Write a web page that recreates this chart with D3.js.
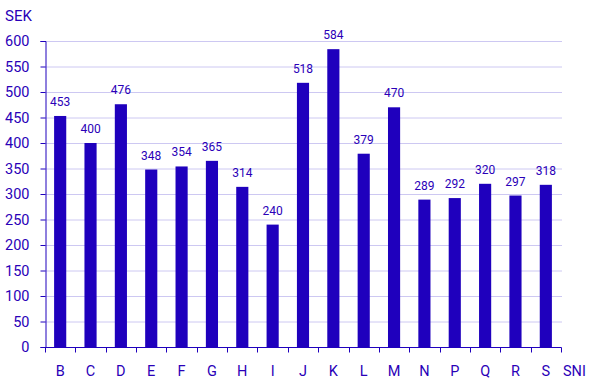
<!DOCTYPE html>
<html><head><meta charset="utf-8">
<script src="https://cdn.jsdelivr.net/npm/d3@7"></script>
<style>body{margin:0;background:#fff}svg{display:block;font-family:Roboto,sans-serif}</style>
</head><body><svg id="c" width="593" height="382"></svg>
<script>
const categories = ["B","C","D","E","F","G","H","I","J","K","L","M","N","P","Q","R","S"];
const values = [453,400,476,348,354,365,314,240,518,584,379,470,289,292,320,297,318];
const yTicks = [0,50,100,150,200,250,300,350,400,450,500,550,600];

(function(){
const svg = d3.select("#c");
const mLeft = 45, mRight = 561, mTop = 41, mBottom = 347;
const textCol = "#2a00b8", barCol = "#1f00bd", axisCol = "#1f00bd", gridCol = "#cdc8f2";

const x = d3.scaleBand().domain(categories).range([mLeft, mRight]).paddingInner(0.6).paddingOuter(0.3);
const y = d3.scaleLinear().domain([0, 600]).range([mBottom, mTop]);

svg.append("g").selectAll("line").data(yTicks.filter(d => d > 0)).join("line")
  .attr("x1", mLeft).attr("x2", mRight + 1)
  .attr("y1", d => y(d) + 0.5).attr("y2", d => y(d) + 0.5)
  .attr("stroke", gridCol).attr("stroke-width", 1);

svg.append("g").selectAll("rect").data(values).join("rect")
  .attr("x", (d, i) => x(categories[i]))
  .attr("width", x.bandwidth())
  .attr("y", d => y(d))
  .attr("height", d => y(0) - y(d))
  .attr("fill", barCol);

svg.append("g").selectAll("text").data(values).join("text")
  .attr("x", (d, i) => x(categories[i]) + x.bandwidth() / 2)
  .attr("y", d => y(d) - 10)
  .attr("text-anchor", "middle").attr("font-size", 12).attr("fill", textCol)
  .text(d => d);

const yAxis = d3.axisLeft(y).tickValues(yTicks).tickSize(5).tickPadding(11);
const gy = svg.append("g").attr("transform", `translate(${mLeft + 0.5},0)`).call(yAxis);
gy.select(".domain").attr("stroke", axisCol);
gy.selectAll(".tick line").attr("stroke", axisCol);
gy.selectAll(".tick text").attr("fill", textCol).attr("font-size", 14.5).attr("font-family", "Roboto,sans-serif");

const xStep = (mRight - mLeft) / categories.length;
const gx = svg.append("g").attr("transform", `translate(0,${mBottom + 0.5})`);
gx.append("line").attr("x1", mLeft).attr("x2", mRight + 0.5).attr("stroke", axisCol);
gx.selectAll(".tk").data(d3.range(categories.length + 1)).join("line")
  .attr("x1", i => Math.round(mLeft + i * xStep) + 0.5).attr("x2", i => Math.round(mLeft + i * xStep) + 0.5)
  .attr("y1", 0).attr("y2", 5).attr("stroke", axisCol);
gx.selectAll("text").data(categories).join("text")
  .attr("x", d => x(d) + x.bandwidth() / 2).attr("y", 28)
  .attr("text-anchor", "middle").attr("font-size", 14.5).attr("fill", textCol).text(d => d);

svg.append("text").attr("x", 5).attr("y", 21).attr("font-size", 15).attr("fill", textCol).text("SEK");
svg.append("text").attr("x", 563).attr("y", 376).attr("font-size", 14.5).attr("fill", textCol).text("SNI");
})();
</script></body></html>
